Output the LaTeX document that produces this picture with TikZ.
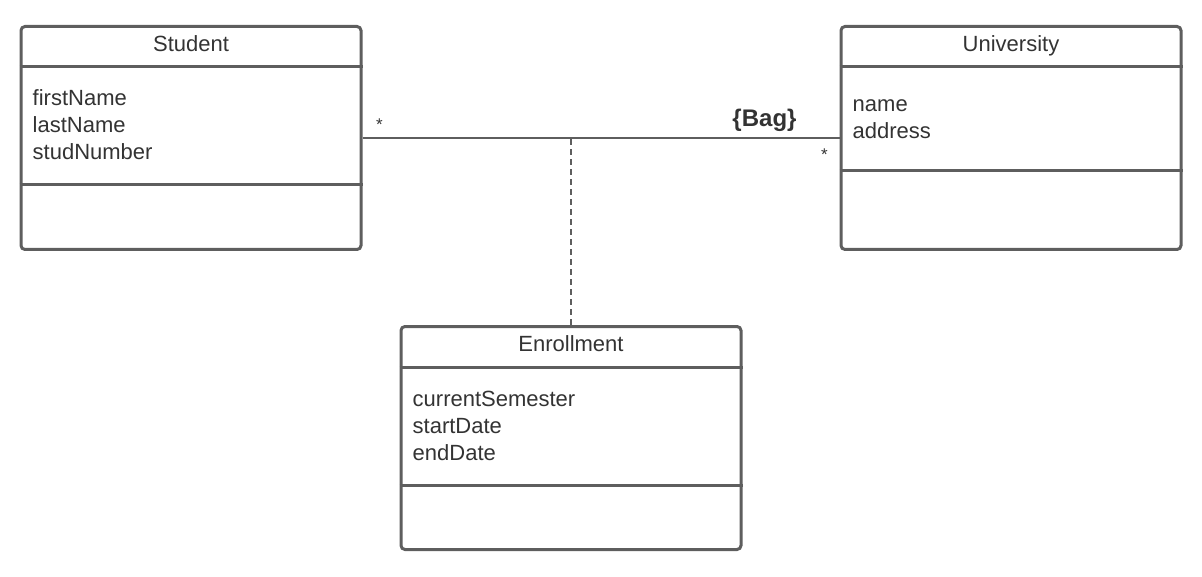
\documentclass[tikz,border=0pt]{standalone}
\usepackage{fontspec}
\setmainfont{Liberation Sans}
\definecolor{umlline}{HTML}{5E5E5E}
\definecolor{umltext}{HTML}{333333}
\tikzset{
  classbox/.style={draw=umlline, line width=3pt, rounded corners=4pt,
    minimum width=340pt, minimum height=223pt, inner sep=0pt},
  compart/.style={draw=umlline, line width=3pt},
  attr/.style={anchor=base west, inner sep=0pt},
  title/.style={anchor=base, inner sep=0pt},
  mult/.style={anchor=base, inner sep=0pt, font=\fontsize{17}{20}\selectfont},
  assoc/.style={draw=umlline, line width=2pt},
}
\begin{document}
\begin{tikzpicture}[x=1pt, y=-1pt, font=\fontsize{22}{27}\selectfont, text=umltext]
\useasboundingbox (0,0) rectangle (1202,577);
% classes
\node[classbox] (student) at (191,138){};
\node[classbox] (university) at (1011,138){};
\node[classbox] (enrollment) at (571,438){};
\node[title] (studentname) at ([yshift=-27pt]student.north){Student};
\node[title] (universityname) at ([yshift=-27pt]university.north){University};
\node[title] (enrollmentname) at ([yshift=-27pt]enrollment.north){Enrollment};
% compartments
\draw[compart] ([yshift=-42pt]student.north west)--([yshift=-42pt]student.north east);
\draw[compart] ([yshift=-160pt]student.north west)--([yshift=-160pt]student.north east);
\draw[compart] ([yshift=-42pt]university.north west)--([yshift=-42pt]university.north east);
\draw[compart] ([yshift=-146pt]university.north west)--([yshift=-146pt]university.north east);
\draw[compart] ([yshift=-42pt]enrollment.north west)--([yshift=-42pt]enrollment.north east);
\draw[compart] ([yshift=-160pt]enrollment.north west)--([yshift=-160pt]enrollment.north east);
% attributes
\foreach \a [count=\i] in {firstName,lastName,studNumber}
{
    \node[attr] (student-\i) at ([xshift=13pt, yshift={-81pt-27pt*(\i-1)}]student.north west){\a};
}
\foreach \a [count=\i] in {name,address}
{
    \node[attr] (university-\i) at ([xshift=13pt, yshift={-87pt-27pt*(\i-1)}]university.north west){\a};
}
\foreach \a [count=\i] in {currentSemester,startDate,endDate}
{
    \node[attr] (enrollment-\i) at ([xshift=13pt, yshift={-81pt-27pt*(\i-1)}]enrollment.north west){\a};
}
% association
\draw[assoc] (student)--(university);
\draw[assoc, dash pattern=on 6pt off 4pt] (enrollment.north)--(enrollment.north |- student.east);
\node[mult] (mult-student) at ([xshift=17pt, yshift=7pt]student.east){*};
\node[mult] (mult-university) at ([xshift=-15pt, yshift=-23pt]university.west){*};
\node[title, font=\fontsize{24}{28}\selectfont\bfseries] (bag) at ([xshift=-75pt, yshift=11pt]university.west){\{Bag\}};
\end{tikzpicture}
\end{document}
